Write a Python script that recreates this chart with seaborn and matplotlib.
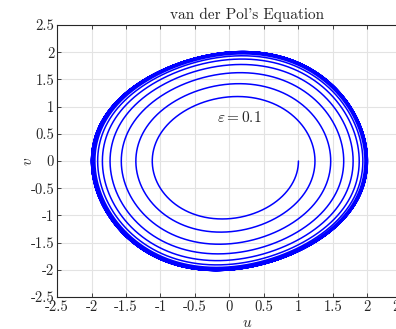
import numpy as np
import pandas as pd
import matplotlib
matplotlib.use("Agg")
import matplotlib.pyplot as plt
import seaborn as sns

# Van der Pol oscillator u'' - eps*(1 - u^2)*u' + u = 0, as a first-order system
eps = 0.1
u0, v0 = 1.0, 0.0
t_end = 100.0
n_steps = 20000

x_ticks = [-2.5, -2, -1.5, -1, -0.5, 0, 0.5, 1, 1.5, 2, 2.5, 3]
y_ticks = [-2.5, -2, -1.5, -1, -0.5, 0, 0.5, 1, 1.5, 2, 2.5]


def rhs(state):
    u, v = state
    return np.array([v, eps * (1.0 - u * u) * v - u])


# classic RK4 integration of the trajectory
h = t_end / n_steps
traj = np.empty((n_steps + 1, 2))
traj[0] = (u0, v0)
s = traj[0].copy()
for i in range(n_steps):
    k1 = rhs(s)
    k2 = rhs(s + 0.5 * h * k1)
    k3 = rhs(s + 0.5 * h * k2)
    k4 = rhs(s + h * k3)
    s = s + h / 6.0 * (k1 + 2 * k2 + 2 * k3 + k4)
    traj[i + 1] = s

df = pd.DataFrame({"u": traj[:, 0], "v": traj[:, 1]})

sns.set_theme(style="white")
plt.rcParams.update({
    "font.family": ["cmr10", "DejaVu Serif"],
    "mathtext.fontset": "cm",
    "axes.unicode_minus": False,
    "axes.formatter.use_mathtext": False,
})

fig = plt.figure(figsize=(3.96, 3.29), dpi=100)
ax = fig.add_axes([0.144, 0.097, 0.958, 0.827])

sns.lineplot(data=df, x="u", y="v", sort=False, estimator=None,
             color="#0000ff", linewidth=1.1, ax=ax)

ax.set_xlim(-2.5, 3)
ax.set_ylim(-2.5, 2.5)
ax.set_xticks(x_ticks)
ax.set_yticks(y_ticks)
ax.set_xticklabels([f"{t:g}" for t in x_ticks])
ax.set_yticklabels([f"{t:g}" for t in y_ticks])
ax.grid(True, color="#e3e3e3", linewidth=0.8)
ax.set_axisbelow(True)
ax.tick_params(direction="in", length=3, width=0.6, color="#262626",
               labelsize=10.5, labelcolor="#262626", pad=2,
               top=True, right=True, bottom=True, left=True)
for side, sp in ax.spines.items():
    sp.set_color("#262626")
    sp.set_linewidth(0.8)

ax.set_xlabel("$u$", fontsize=11, color="#262626", labelpad=2)
ax.set_ylabel("$v$", fontsize=11, color="#262626", labelpad=-3)
ax.set_title("van der Pol's Equation", fontsize=11, color="#262626", pad=4)
ax.text(-0.18, 0.8, r"$\varepsilon = 0.1$", fontsize=11, color="#262626",
        ha="left", va="center")

fig.savefig("out.png", dpi=100)
